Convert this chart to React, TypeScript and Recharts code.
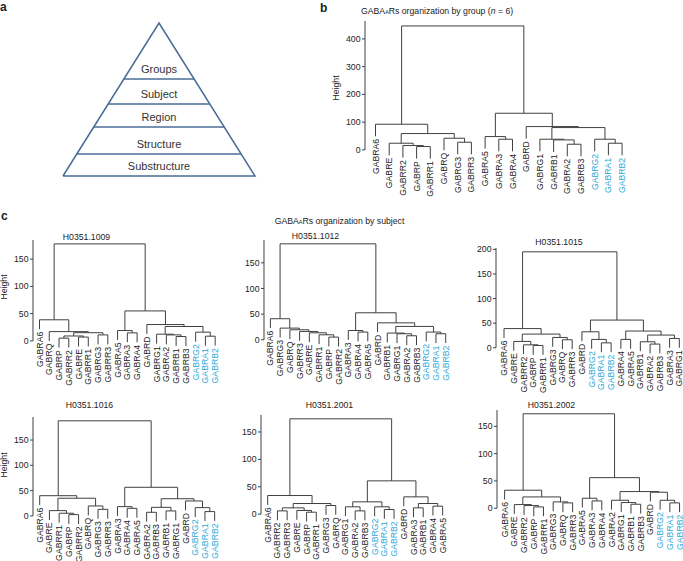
import React from "react";
import { ComposedChart, Line, XAxis, YAxis, Scatter, ReferenceLine } from "recharts";

const FONT = '"Liberation Sans", Arial, Helvetica, sans-serif';
const INK = "#222222";
const LINK = "#3f3f3f";
const CYAN = "#2aa8d8";
const PYRAMID_BLUE = "#4a6d96";
const highlighted = ["GABRG2", "GABRA1", "GABRB2"];

// ---------- panel a ----------
const pyramidLevels = ["Groups", "Subject", "Region", "Structure", "Substructure"];
const pyramidFloors = [0.634, 0.471, 0.32, 0.144, 0];

// ---------- panel b : by group ----------
const groupLeaves = ["GABRA6","GABRE","GABRR2","GABRP","GABRR1","GABRQ","GABRG3","GABRR3","GABRA5","GABRA3","GABRA4","GABRD","GABRG1","GABRB1","GABRA2","GABRB3","GABRG2","GABRA1","GABRB2"];
const groupMerges = [[-4,-5],[-3,1],[-2,2],[-7,-8],[-6,4],[3,5],[-1,6],[-10,-11],[-9,8],[-15,-16],[-14,10],[-13,11],[-18,-19],[-17,13],[12,14],[-12,15],[9,16],[7,17]];
const groupHeights = [12,15.6,24,27.6,42,58.8,92.4,38.4,48,20.4,36,38.4,24,38.4,80.4,84,132,446.6];
const groupTicks = [0, 100, 200, 300, 400];

// ---------- panel c : by subject ----------
const s1009Leaves = ["GABRA6","GABRQ","GABRP","GABRR2","GABRE","GABRR1","GABRG3","GABRR3","GABRA5","GABRA3","GABRA4","GABRD","GABRG1","GABRA2","GABRB1","GABRB3","GABRG2","GABRA1","GABRB2"];
const s1009Merges = [[-3,-4],[-5,-6],[1,2],[-7,-8],[3,4],[-2,5],[-1,6],[-10,-11],[-9,8],[-15,-16],[-14,10],[-13,11],[-18,-19],[-17,13],[12,14],[-12,15],[9,16],[7,17]];
const s1009Heights = [5,7,9,11,15,17,38.7,14.7,19,8,11,12.3,8.6,16,26.4,30,55,178];

const s1012Leaves = ["GABRA6","GABRG3","GABRQ","GABRR3","GABRE","GABRR1","GABRP","GABRR2","GABRA3","GABRA4","GABRA5","GABRD","GABRB1","GABRG1","GABRA2","GABRB3","GABRG2","GABRA1","GABRB2"];
const s1012Merges = [[-7,-8],[-6,1],[-5,2],[-4,3],[-3,4],[-2,5],[-1,6],[-10,-11],[-9,8],[-15,-16],[-14,10],[-13,11],[-18,-19],[-17,13],[12,14],[-12,15],[9,16],[7,17]];
const s1012Heights = [5.2,9.7,13.6,16.2,19.5,22.7,41,15,18,7.8,11.7,13,11.7,15,26,33,52.6,187];

const s1015Leaves = ["GABRA6","GABRE","GABRR2","GABRP","GABRR1","GABRG3","GABRQ","GABRR3","GABRD","GABRG2","GABRA1","GABRB2","GABRA4","GABRA5","GABRB1","GABRA2","GABRB3","GABRA3","GABRG1"];
const s1015Merges = [[-4,-5],[-3,1],[-2,2],[-7,-8],[-6,4],[3,5],[-1,6],[-11,-12],[-10,8],[-9,9],[-13,-14],[-16,-17],[-15,12],[-18,-19],[13,14],[11,15],[10,16],[7,17]];
const s1015Heights = [4.7,6,12.9,16.3,21,27.8,39,10,17,32.5,17,7.5,12.2,19,25.8,34,56.3,195];

const s1016Leaves = ["GABRA6","GABRE","GABRR1","GABRP","GABRR2","GABRQ","GABRG3","GABRR3","GABRA3","GABRA4","GABRA5","GABRA2","GABRB3","GABRB1","GABRG1","GABRD","GABRG2","GABRA1","GABRB2"];
const s1016Merges = [[-4,-5],[-3,1],[-2,2],[-7,-8],[-6,4],[3,5],[-1,6],[-10,-11],[-9,8],[-12,-13],[-14,-15],[10,11],[-18,-19],[-17,13],[-16,14],[12,15],[9,16],[7,17]];
const s1016Heights = [2.6,5.3,10.5,13,19.7,35,40,15,18.4,7.2,9.9,17,8.6,16.4,29.6,34,56.6,188];

const s2001Leaves = ["GABRA6","GABRR2","GABRR3","GABRE","GABRP","GABRR1","GABRG3","GABRQ","GABRG1","GABRA2","GABRB3","GABRG2","GABRA1","GABRB2","GABRD","GABRA3","GABRB1","GABRA4","GABRA5"];
const s2001Merges = [[-5,-6],[-4,1],[-2,-3],[3,2],[-7,-8],[4,5],[-1,6],[-10,-11],[-9,8],[-13,-14],[-12,10],[9,11],[-16,-17],[-18,-19],[13,14],[-15,15],[12,16],[7,17]];
const s2001Heights = [3.6,6.7,6,11.5,15.8,19.4,34,6,13.4,8.5,13.4,22.5,11.5,14.6,19.4,31.6,60.8,174];

const s2002Leaves = ["GABRA6","GABRE","GABRR2","GABRP","GABRR1","GABRG3","GABRQ","GABRR3","GABRA5","GABRA3","GABRA4","GABRA2","GABRG1","GABRB1","GABRB3","GABRD","GABRG2","GABRA1","GABRB2"];
const s2002Merges = [[-4,-5],[-3,1],[-2,2],[-7,-8],[-6,4],[3,5],[-1,6],[-10,-11],[-9,8],[-14,-15],[-13,10],[-12,11],[-18,-19],[-17,13],[-16,14],[12,15],[9,16],[7,17]];
const s2002Heights = [2.4,4.9,6.7,9.8,11.6,20.7,33,13.4,18.3,7.3,10.4,14.6,9.8,14.6,29.3,30.5,56,173];

const subjectTicks = [0, 50, 100, 150];
const subjectTicks1015 = [0, 50, 100, 150, 200];
const subjectNames = ["H0351.1009", "H0351.1012", "H0351.1015", "H0351.1016", "H0351.2001", "H0351.2002"];

type Pt = { x: number; y: number };
type Layout = { axisX: number; leaf0X: number; step: number; zeroY: number; unitPx: number };

function buildTree(leaves: string[], merges: number[][], heights: number[]) {
  const hang = 0.1 * (Math.max(...heights) - Math.min(...heights));
  const nodeX: number[] = [];
  const nodeH: number[] = [];
  const leafBottom: number[] = leaves.map(() => 0);
  const links: Pt[][] = [];
  merges.forEach(([a, b], i) => {
    const h = heights[i];
    const child = (c: number): Pt => {
      if (c < 0) {
        const idx = -c - 1;
        leafBottom[idx] = h - hang;
        return { x: idx, y: h - hang };
      }
      return { x: nodeX[c - 1], y: nodeH[c - 1] };
    };
    const L = child(a);
    const R = child(b);
    nodeX[i] = (L.x + R.x) / 2;
    nodeH[i] = h;
    links.push([{ x: L.x, y: L.y }, { x: L.x, y: h }, { x: R.x, y: h }, { x: R.x, y: R.y }]);
  });
  const leafPts = leaves.map((label, i) => ({
    x: i,
    y: leafBottom[i],
    label,
    color: highlighted.includes(label) ? CYAN : INK,
  }));
  return { links, leafPts, leafBottom };
}

const LeafLabel = (props: any) => {
  const { cx, cy, payload } = props;
  if (cx == null || cy == null) return <g />;
  const ty = cy + 2.5;
  return (
    <text
      x={cx}
      y={ty}
      transform={`rotate(-90 ${cx} ${ty})`}
      textAnchor="end"
      dy="0.35em"
      fontSize={8.7}
      fontFamily={FONT}
      fill={payload.color}
    >
      {payload.label}
    </text>
  );
};

function Dendrogram(props: {
  leaves: string[];
  merges: number[][];
  heights: number[];
  ticks: number[];
  layout: Layout;
}) {
  const { leaves, merges, heights, ticks, layout } = props;
  const tree = buildTree(leaves, merges, heights);
  const n = leaves.length;
  const pad = (layout.leaf0X - layout.axisX) / layout.step;
  const xMin = -pad;
  const xMax = n - 1 + pad;
  const axisTop = Math.max(...heights) * 1.04;
  const yMin = Math.min(...tree.leafBottom) - 0.5;
  const plotW = (xMax - xMin) * layout.step;
  const plotH = (axisTop - yMin) * layout.unitPx;
  const YW = 40;
  const TOP = 8;
  const RIGHT = 4;
  const BOTTOM = 60;
  const left = layout.axisX - YW;
  const top = layout.zeroY - axisTop * layout.unitPx - TOP;
  return (
    <div style={{ position: "absolute", left, top }}>
      <ComposedChart
        width={YW + plotW + RIGHT}
        height={plotH + TOP + BOTTOM}
        margin={{ top: TOP, right: RIGHT, bottom: BOTTOM, left: 0 }}
      >
        <XAxis type="number" dataKey="x" domain={[xMin, xMax]} hide />
        <YAxis
          type="number"
          dataKey="y"
          domain={[yMin, axisTop]}
          ticks={ticks}
          interval={0}
          width={YW}
          axisLine={false}
          tickLine={{ stroke: LINK, strokeWidth: 1 }}
          tickSize={3}
          tickMargin={1.5}
          tick={{ fontSize: 8.7, fill: INK, fontFamily: FONT }}
        />
        <ReferenceLine
          segment={[{ x: xMin, y: 0 }, { x: xMin, y: axisTop }]}
          stroke={LINK}
          strokeWidth={1}
        />
        {tree.links.map((pts, i) => (
          <Line
            key={i}
            data={pts}
            dataKey="y"
            type="linear"
            stroke={LINK}
            strokeWidth={1}
            dot={false}
            activeDot={false}
            isAnimationActive={false}
          />
        ))}
        <Scatter data={tree.leafPts} isAnimationActive={false} shape={LeafLabel} />
      </ComposedChart>
    </div>
  );
}

const PyramidLabel = (props: any) => {
  const { cx, cy, payload } = props;
  if (cx == null || cy == null) return <g />;
  return (
    <text x={cx} y={cy} textAnchor="middle" dy="0.35em" fontSize={11} fontFamily={FONT} fill="#333">
      {payload.label}
    </text>
  );
};

function Pyramid() {
  const M = 4;
  const W = 192;
  const H = 153;
  const outline: Pt[] = [{ x: -1, y: 0 }, { x: 0, y: 1 }, { x: 1, y: 0 }, { x: -1, y: 0 }];
  const bands = pyramidFloors.filter((f) => f > 0).map((f) => [{ x: -(1 - f), y: f }, { x: 1 - f, y: f }]);
  const labels = pyramidLevels.map((label, i) => ({ x: 0, y: pyramidFloors[i] + 0.066, label }));
  return (
    <div style={{ position: "absolute", left: 63 - M, top: 23 - M }}>
      <ComposedChart width={W + 2 * M} height={H + 2 * M} margin={{ top: M, right: M, bottom: M, left: M }}>
        <XAxis type="number" dataKey="x" domain={[-1, 1]} hide />
        <YAxis type="number" dataKey="y" domain={[0, 1]} hide />
        <Line data={outline} dataKey="y" type="linear" stroke={PYRAMID_BLUE} strokeWidth={1.5} dot={false} activeDot={false} isAnimationActive={false} />
        {bands.map((b, i) => (
          <Line key={i} data={b} dataKey="y" type="linear" stroke={PYRAMID_BLUE} strokeWidth={1.5} dot={false} activeDot={false} isAnimationActive={false} />
        ))}
        <Scatter data={labels} isAnimationActive={false} shape={PyramidLabel} />
      </ComposedChart>
    </div>
  );
}

const FS = 8.7;
function TextAt(props: { x: number; y: number; anchor?: "start" | "middle"; size?: number; bold?: boolean; children: React.ReactNode }) {
  const size = props.size ?? FS;
  const style: React.CSSProperties = {
    position: "absolute",
    top: props.y - 0.49 * size,
    left: props.x,
    fontSize: size,
    lineHeight: 1,
    fontFamily: FONT,
    color: INK,
    whiteSpace: "nowrap",
    fontWeight: props.bold ? 700 : 400,
    transform: props.anchor === "middle" ? "translateX(-50%)" : undefined,
  };
  return <div style={style}>{props.children}</div>;
}

function HeightLabel({ x, y }: { x: number; y: number }) {
  return (
    <div
      style={{
        position: "absolute",
        left: x,
        top: y,
        fontSize: FS,
        lineHeight: 1,
        fontFamily: FONT,
        color: INK,
        whiteSpace: "nowrap",
        transform: "translate(-50%, -50%) rotate(-90deg)",
      }}
    >
      Height
    </div>
  );
}

const sub = <span style={{ fontSize: "0.62em" }}>A</span>;

export default function App() {
  return (
    <div style={{ position: "absolute", left: 0, top: 0, width: 683, height: 561, overflow: "hidden", background: "#fff" }}>
      <TextAt x={0} y={7} size={12} bold>a</TextAt>
      <TextAt x={320} y={8} size={12} bold>b</TextAt>
      <TextAt x={1} y={216} size={12} bold>c</TextAt>

      <Pyramid />

      <TextAt x={361} y={11}>
        GABA{sub}Rs organization by group (<i>n</i> = 6)
      </TextAt>
      <HeightLabel x={335.5} y={88} />
      <Dendrogram leaves={groupLeaves} merges={groupMerges} heights={groupHeights} ticks={groupTicks}
        layout={{ axisX: 364.5, leaf0X: 375, step: 13.7, zeroY: 150, unitPx: 0.2775 }} />

      <TextAt x={339.5} y={221} anchor="middle">
        GABA{sub}Rs organization by subject
      </TextAt>

      <TextAt x={86.5} y={237.5} anchor="middle">{subjectNames[0]}</TextAt>
      <TextAt x={315.5} y={236} anchor="middle">{subjectNames[1]}</TextAt>
      <TextAt x={559} y={242.7} anchor="middle">{subjectNames[2]}</TextAt>
      <TextAt x={89.5} y={405} anchor="middle">{subjectNames[3]}</TextAt>
      <TextAt x={329.5} y={405} anchor="middle">{subjectNames[4]}</TextAt>
      <TextAt x={551.5} y={405} anchor="middle">{subjectNames[5]}</TextAt>

      <HeightLabel x={4} y={287} />
      <HeightLabel x={4} y={465} />

      <Dendrogram leaves={s1009Leaves} merges={s1009Merges} heights={s1009Heights} ticks={subjectTicks}
        layout={{ axisX: 33, leaf0X: 39.5, step: 9.76, zeroY: 341, unitPx: 0.545 }} />
      <Dendrogram leaves={s1012Leaves} merges={s1012Merges} heights={s1012Heights} ticks={subjectTicks}
        layout={{ axisX: 264.3, leaf0X: 270.7, step: 9.74, zeroY: 339.3, unitPx: 0.513 }} />
      <Dendrogram leaves={s1015Leaves} merges={s1015Merges} heights={s1015Heights} ticks={subjectTicks1015}
        layout={{ axisX: 495.7, leaf0X: 503.7, step: 9.74, zeroY: 347.7, unitPx: 0.492 }} />
      <Dendrogram leaves={s1016Leaves} merges={s1016Merges} heights={s1016Heights} ticks={subjectTicks}
        layout={{ axisX: 33.3, leaf0X: 40, step: 9.72, zeroY: 516, unitPx: 0.506 }} />
      <Dendrogram leaves={s2001Leaves} merges={s2001Merges} heights={s2001Heights} ticks={subjectTicks}
        layout={{ axisX: 261, leaf0X: 267.7, step: 9.72, zeroY: 514, unitPx: 0.548 }} />
      <Dendrogram leaves={s2002Leaves} merges={s2002Merges} heights={s2002Heights} ticks={subjectTicks}
        layout={{ axisX: 496.7, leaf0X: 504.3, step: 9.72, zeroY: 508, unitPx: 0.546 }} />
    </div>
  );
}
